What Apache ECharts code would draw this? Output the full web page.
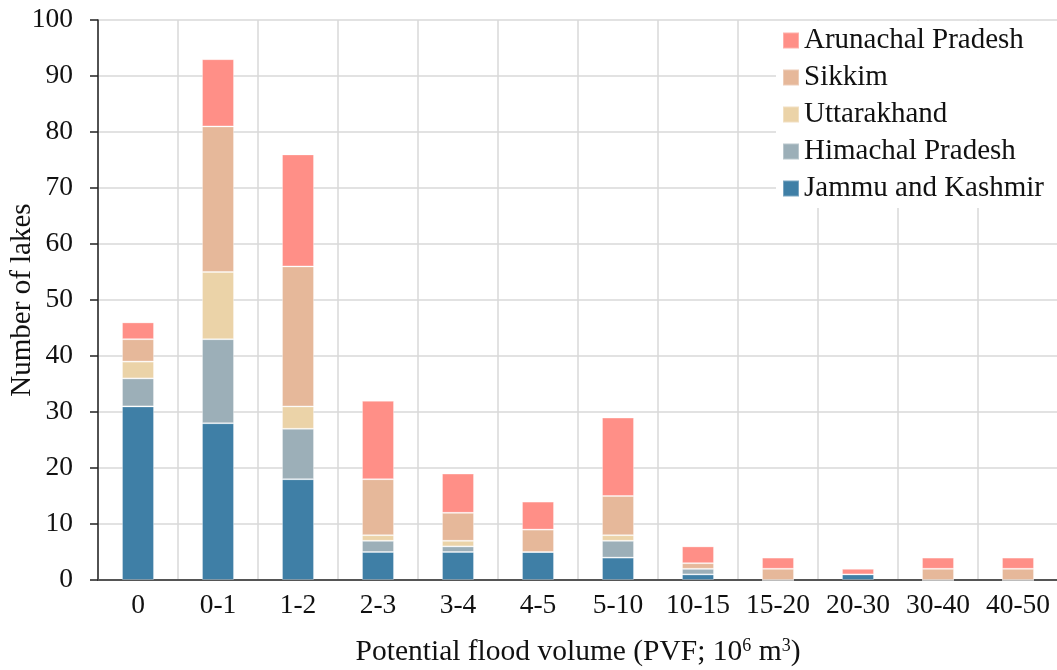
<!DOCTYPE html>
<html>
<head>
<meta charset="utf-8">
<script src="https://cdn.jsdelivr.net/npm/echarts@6/dist/echarts.min.js"></script>
<style>
  html, body { margin: 0; padding: 0; background: #fff; }
  #chart { width: 1057px; height: 670px; }
</style>
</head>
<body>
<div id="chart"></div>
<script>
// PVF classes (10^6 m^3)
const categories = ['0', '0-1', '1-2', '2-3', '3-4', '4-5', '5-10', '10-15', '15-20', '20-30', '30-40', '40-50'];

// Number of lakes per state in each PVF class
const jammuKashmir     = [31, 28, 18, 5, 5, 5, 4, 1, 0, 1, 0, 0];
const himachalPradesh  = [5, 15, 9, 2, 1, 0, 3, 1, 0, 0, 0, 0];
const uttarakhand      = [3, 12, 4, 1, 1, 0, 1, 0, 0, 0, 0, 0];
const sikkim           = [4, 26, 25, 10, 5, 4, 7, 1, 2, 0, 2, 2];
const arunachalPradesh = [3, 12, 20, 14, 7, 5, 14, 3, 2, 1, 2, 2];

const yTicks = { min: 0, max: 100, interval: 10 };

const FONT = '"Liberation Serif", "Times New Roman", serif';

const stateSeries = [
  { name: 'Jammu and Kashmir', data: jammuKashmir,     color: '#3f7fa6' },
  { name: 'Himachal Pradesh',  data: himachalPradesh,  color: '#9cafb8' },
  { name: 'Uttarakhand',       data: uttarakhand,      color: '#ebd3a8' },
  { name: 'Sikkim',            data: sikkim,           color: '#e6b89a' },
  { name: 'Arunachal Pradesh', data: arunachalPradesh, color: '#ff8f87' }
];

const chart = echarts.init(document.getElementById('chart'));

chart.setOption({
  animation: false,
  backgroundColor: '#ffffff',
  grid: { left: 98, top: 20, width: 960, height: 560, containLabel: false, outerBoundsMode: 'none' },
  legend: {
    data: stateSeries.map(s => s.name).reverse(),
    orient: 'vertical',
    left: 776,
    top: 21,
    backgroundColor: '#ffffff',
    borderWidth: 0,
    padding: [5, 14, 5, 6],
    itemWidth: 16,
    itemHeight: 16,
    itemGap: 8,
    icon: 'rect',
    textStyle: { fontFamily: FONT, fontSize: 29, color: '#111', lineHeight: 29 }
  },
  xAxis: {
    type: 'category',
    data: categories,
    boundaryGap: true,
    axisLine: { lineStyle: { color: '#555', width: 2 } },
    axisTick: { show: false },
    axisLabel: { fontFamily: FONT, fontSize: 27.5, color: '#111', margin: 12, interval: 0 },
    splitLine: { show: true, interval: 0, lineStyle: { color: '#d9d9d9', width: 1.5 } },
    name: '{t|Potential flood volume (PVF; 10}{s|6}{t| m}{s|3}{t|)}',
    nameLocation: 'middle',
    nameGap: 57,
    nameMoveOverlap: false,
    nameTextStyle: {
      rich: {
        t: { fontFamily: FONT, fontSize: 29.5, color: '#111' },
        s: { fontFamily: FONT, fontSize: 18, color: '#111', verticalAlign: 'top', padding: [0, 0, 10, 0] }
      }
    }
  },
  yAxis: {
    type: 'value',
    min: yTicks.min,
    max: yTicks.max,
    interval: yTicks.interval,
    axisLine: { show: true, lineStyle: { color: '#222', width: 1.5 } },
    axisTick: { show: true, length: 8, lineStyle: { color: '#222', width: 1.5 } },
    axisLabel: { fontFamily: FONT, fontSize: 27.5, color: '#111', margin: 25 },
    splitLine: { show: true, lineStyle: { color: '#d9d9d9', width: 1.5 } },
    name: 'Number of lakes',
    nameLocation: 'middle',
    nameRotate: 90,
    nameGap: 61,
    nameMoveOverlap: false,
    nameTextStyle: { fontFamily: FONT, fontSize: 29, color: '#111' }
  },
  series: stateSeries.map(s => ({
    name: s.name,
    type: 'bar',
    stack: 'lakes',
    data: s.data,
    barWidth: 32,
    itemStyle: { color: s.color, borderColor: 'rgba(255,255,255,0.3)', borderWidth: 1 },
    emphasis: { disabled: true }
  }))
});
</script>
</body>
</html>
